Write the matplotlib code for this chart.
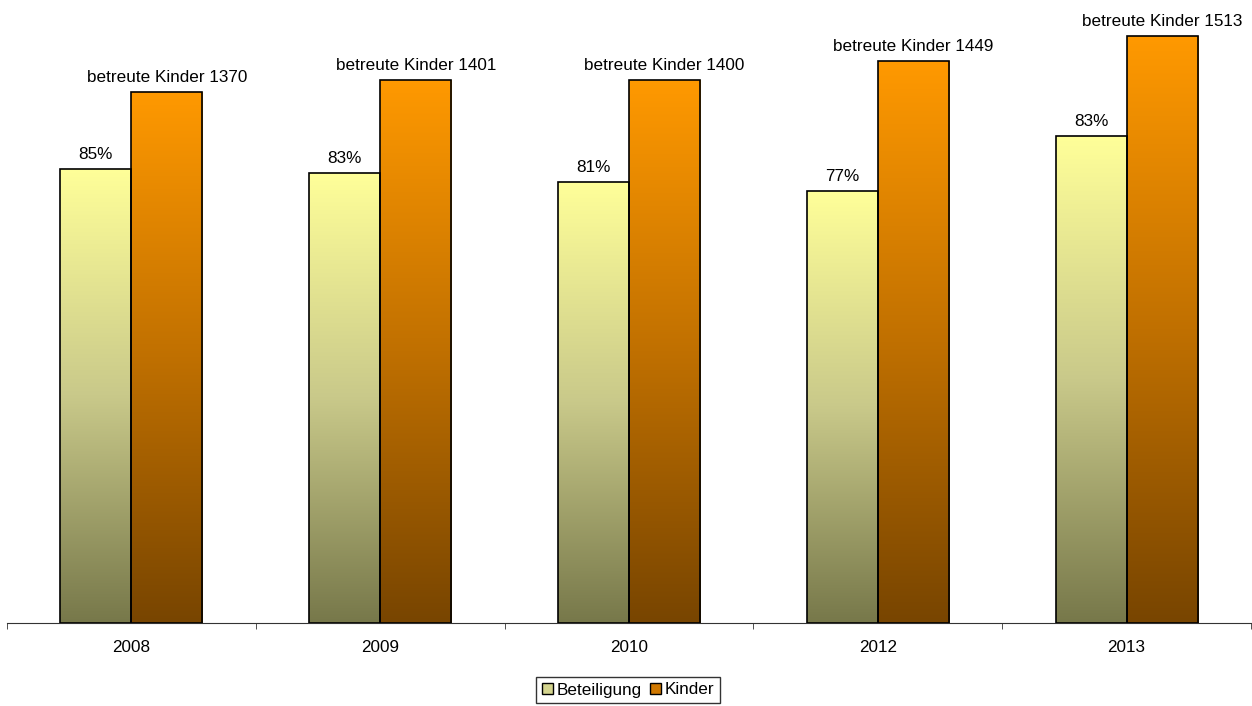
import matplotlib
matplotlib.use("Agg")
import matplotlib.pyplot as plt
import numpy as np
from matplotlib.colors import LinearSegmentedColormap
from matplotlib.patches import Patch

plt.rcParams['font.family'] = ['Liberation Sans', 'DejaVu Sans']

years = ["2008", "2009", "2010", "2012", "2013"]
kinder = [1370, 1401, 1400, 1449, 1513]
beteiligung_pct = ["85%", "83%", "81%", "77%", "83%"]
# heights of the Beteiligung bars (participating children)
beteiligung = [1172, 1161, 1138, 1115, 1256]

fig = plt.figure(figsize=(12.52, 7.06), dpi=100)
ax = fig.add_axes([7/1252, (706-623)/706, (1251-7)/1252, (623-10)/706])

x = np.arange(len(years))
w = 0.2854

bars_b = ax.bar(x - w/2, beteiligung, w, facecolor='none', edgecolor='black', linewidth=1.2, zorder=3)
bars_k = ax.bar(x + w/2, kinder, w, facecolor='none', edgecolor='black', linewidth=1.2, zorder=3)

cmap_b = LinearSegmentedColormap.from_list('b', ['#77784A', '#C9C98A', '#FFFF99'])
cmap_k = LinearSegmentedColormap.from_list('k', ['#784500', '#C07000', '#FF9900'])
grad = np.linspace(0, 1, 256).reshape(-1, 1)

for bars, cmap in ((bars_b, cmap_b), (bars_k, cmap_k)):
    for r in bars:
        x0, y0 = r.get_x(), r.get_y()
        x1, y1 = x0 + r.get_width(), y0 + r.get_height()
        im = ax.imshow(grad, cmap=cmap, extent=[x0, x1, y0, y1], origin='lower',
                       aspect='auto', zorder=2, interpolation='bilinear')
        im.set_clip_path(r)

for i in range(len(years)):
    ax.annotate(beteiligung_pct[i], (x[i] - w/2, beteiligung[i]), xytext=(0, 5),
                textcoords='offset points', ha='center', va='bottom', fontsize=12.3)
    ax.annotate(f"betreute Kinder {kinder[i]}", (x[i] + w/2, kinder[i]), xytext=(0, 5),
                textcoords='offset points', ha='center', va='bottom', fontsize=12.3)

ax.set_xlim(-0.5, len(years) - 0.5)
ax.set_ylim(0, 1581)
for s in ['top', 'right', 'left']:
    ax.spines[s].set_visible(False)
ax.spines['bottom'].set_color('#333333')
ax.set_yticks([])
ax.set_xticks(x)
ax.set_xticklabels(years, fontsize=12.3)
ax.tick_params(axis='x', which='major', length=0, pad=12)
ax.set_xticks(np.arange(-0.5, len(years)), minor=True)
ax.tick_params(axis='x', which='minor', length=4, color='#333333', direction='out')

handles = [Patch(facecolor='#D4D48E', edgecolor='black', linewidth=1.0),
           Patch(facecolor='#D07800', edgecolor='black', linewidth=1.0)]
leg = fig.legend(handles, ['Beteiligung', 'Kinder'], loc='center', bbox_to_anchor=(628/1252, 1 - 690/706),
                 ncol=2, fontsize=12.3, frameon=True, fancybox=False, edgecolor='black',
                 handlelength=0.65, handleheight=0.65, handletextpad=0.2, columnspacing=0.5,
                 borderpad=0.35, borderaxespad=0)
leg.get_frame().set_linewidth(1.0)

fig.savefig("out.png", dpi=100)
